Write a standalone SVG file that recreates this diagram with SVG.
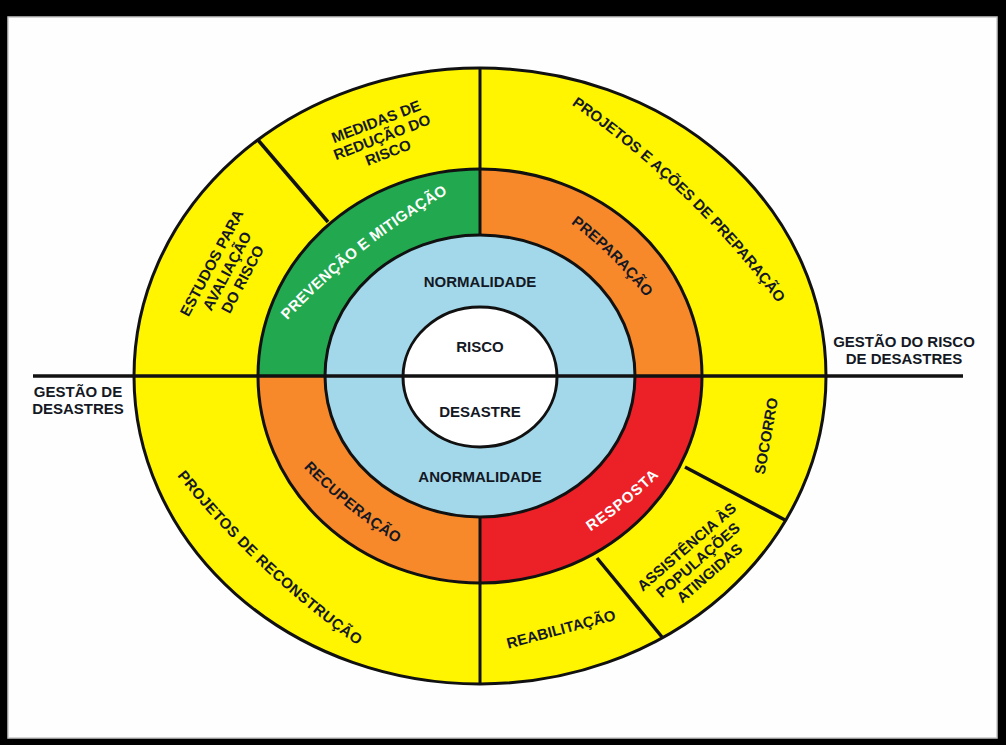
<svg xmlns="http://www.w3.org/2000/svg" width="1006" height="745" viewBox="0 0 1006 745">
<defs>
<style>
.lbl{font-family:"Liberation Sans",Arial,sans-serif;font-weight:bold;font-size:15px;fill:#141824}
.wht{fill:#ffffff}
.mid{text-anchor:middle}
.edge{stroke:#111;stroke-width:3;fill:none}
.div{stroke:#111;stroke-width:3.5;fill:none;stroke-linecap:butt}
</style>
<path id="pPrev" d="M268.6,340.9 A700,700 0 0 1 472.6,179.9"/>
<path id="pPrep" d="M548,207.4 A400,400 0 0 1 662,320"/>
<path id="pRecu" d="M276.7,437.4 A500,500 0 0 0 432.1,563.4"/>
<path id="pResp" d="M551,554.8 A450,450 0 0 0 690.4,441"/>
<path id="pProjPrep" d="M523,73.4 A900,900 0 0 1 811,350.6"/>
<path id="pProjRec" d="M142.8,430.3 A900,900 0 0 0 405.2,676.9"/>
</defs>

<g id="frame">
<rect x="0" y="0" width="1006" height="745" fill="#000"/>
<rect x="8" y="17" width="989" height="721" fill="#fefefe" stroke="#c8c8c8" stroke-width="1.5"/>
</g>

<g id="outer-ring">
<ellipse cx="480" cy="376" rx="346" ry="308" class="edge" style="fill:#fff500"/>
</g>

<g id="phase-ring">
<path id="prevencao-wedge" d="M480,376 L258,376 A222,207 0 0 1 480,169 Z" fill="#22a94f"/>
<path id="preparacao-wedge" d="M480,376 L480,169 A222,207 0 0 1 702,376 Z" fill="#f7892b"/>
<path id="resposta-wedge" d="M480,376 L702,376 A222,207 0 0 1 480,583 Z" fill="#ec2027"/>
<path id="recuperacao-wedge" d="M480,376 L480,583 A222,207 0 0 1 258,376 Z" fill="#f7892b"/>
<ellipse cx="480" cy="376" rx="222" ry="207" class="edge"/>
</g>

<g id="state-ring">
<ellipse cx="480" cy="376" rx="155" ry="141" fill="#a3d8eb" stroke="#111" stroke-width="3"/>
</g>

<g id="core">
<ellipse cx="480" cy="377" rx="77" ry="70" fill="#ffffff" stroke="#111" stroke-width="3"/>
</g>

<g id="connectors">
<line x1="33" y1="376" x2="963" y2="376" class="div"/>
<line x1="480" y1="68" x2="480" y2="235" class="div" style="stroke-width:3"/>
<line x1="480" y1="517" x2="480" y2="684" class="div" style="stroke-width:3"/>
<line x1="258" y1="140" x2="328" y2="222" class="div"/>
<line x1="685" y1="467" x2="785" y2="520" class="div"/>
<line x1="597" y1="558" x2="662" y2="637" class="div"/>
</g>

<g id="normalidade"><text class="lbl mid" x="480" y="287">NORMALIDADE</text></g>
<g id="risco"><text class="lbl mid" x="480" y="352">RISCO</text></g>
<g id="desastre"><text class="lbl mid" x="480" y="417">DESASTRE</text></g>
<g id="anormalidade"><text class="lbl mid" x="480" y="482">ANORMALIDADE</text></g>

<g id="gestao-risco"><text class="lbl mid" x="904" y="347">GESTÃO DO RISCO</text><text class="lbl mid" x="904" y="364">DE DESASTRES</text></g>
<g id="gestao-desastres"><text class="lbl mid" x="78" y="397">GESTÃO DE</text><text class="lbl mid" x="78" y="414">DESASTRES</text></g>

<g id="prevencao"><text class="lbl wht" style="letter-spacing:0.3px"><textPath href="#pPrev" startOffset="50%" text-anchor="middle">PREVENÇÃO E MITIGAÇÃO</textPath></text></g>
<g id="preparacao"><text class="lbl"><textPath href="#pPrep" startOffset="50%" text-anchor="middle">PREPARAÇÃO</textPath></text></g>
<g id="recuperacao"><text class="lbl" style="letter-spacing:0.3px"><textPath href="#pRecu" startOffset="50%" text-anchor="middle">RECUPERAÇÃO</textPath></text></g>
<g id="resposta"><text class="lbl wht" style="letter-spacing:1px"><textPath href="#pResp" startOffset="50%" text-anchor="middle">RESPOSTA</textPath></text></g>
<g id="projetos-preparacao"><text class="lbl"><textPath href="#pProjPrep" startOffset="50%" text-anchor="middle">PROJETOS E AÇÕES DE PREPARAÇÃO</textPath></text></g>
<g id="projetos-reconstrucao"><text class="lbl" style="letter-spacing:0.4px"><textPath href="#pProjRec" startOffset="50%" text-anchor="middle">PROJETOS DE RECONSTRUÇÃO</textPath></text></g>

<g id="medidas" transform="translate(382,137) rotate(-21)">
<text class="lbl mid" x="0" y="-11.3">MEDIDAS DE</text>
<text class="lbl mid" x="0" y="5.3">REDUÇÃO DO</text>
<text class="lbl mid" x="0" y="21.9">RISCO</text>
</g>
<g id="estudos" transform="translate(227,271) rotate(-62)">
<text class="lbl mid" x="0" y="-12.2">ESTUDOS PARA</text>
<text class="lbl mid" x="0" y="5.3">AVALIAÇÃO</text>
<text class="lbl mid" x="0" y="22.8">DO RISCO</text>
</g>
<g id="socorro" transform="translate(766,436) rotate(-80)">
<text class="lbl mid" x="0" y="5.3">SOCORRO</text>
</g>
<g id="assistencia" transform="translate(698,560) rotate(-41)">
<text class="lbl mid" x="0" y="-12.1">ASSISTÊNCIA ÀS</text>
<text class="lbl mid" x="0" y="5.3">POPULAÇÕES</text>
<text class="lbl mid" x="0" y="22.7">ATINGIDAS</text>
</g>
<g id="reabilitacao" transform="translate(561,629) rotate(-15)">
<text class="lbl mid" x="0" y="5.3">REABILITAÇÃO</text>
</g>
</svg>
